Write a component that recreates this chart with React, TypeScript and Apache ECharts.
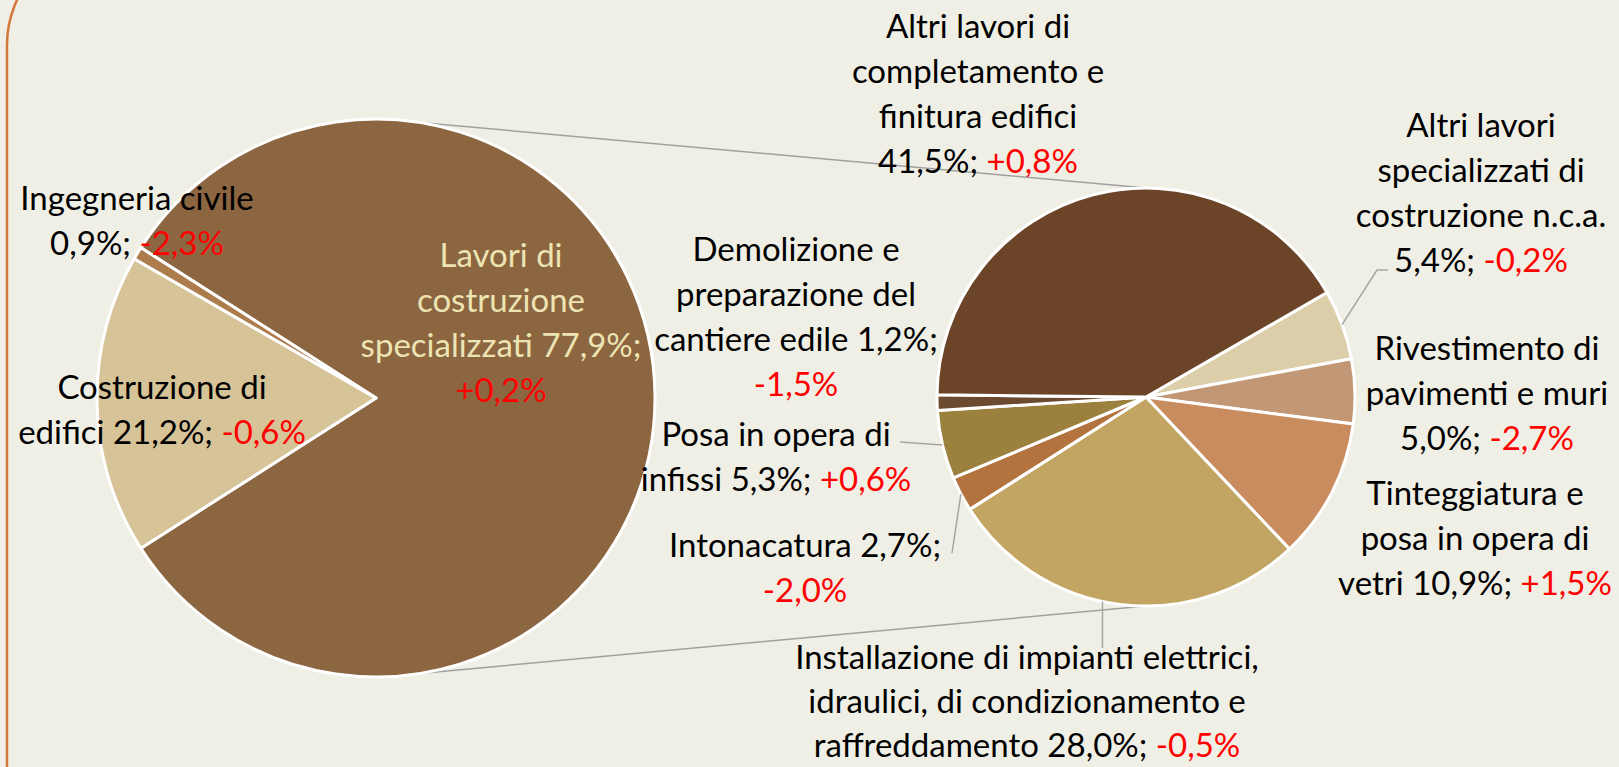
import React, { useEffect, useRef } from 'react';
import * as echarts from 'echarts';

// ---------- DATA ----------
const mainNames = ['Lavori di costruzione specializzati', 'Costruzione di edifici', 'Ingegneria civile'];
const mainShares = [77.9, 21.2, 0.9];
const mainChanges = [0.2, -0.6, -2.3];

const subNames = [
  'Altri lavori specializzati di costruzione n.c.a.',
  'Rivestimento di pavimenti e muri',
  'Tinteggiatura e posa in opera di vetri',
  'Installazione di impianti elettrici, idraulici, di condizionamento e raffreddamento',
  'Intonacatura',
  'Posa in opera di infissi',
  'Demolizione e preparazione del cantiere edile',
  'Altri lavori di completamento e finitura edifici',
];
const subShares = [5.4, 5.0, 10.9, 28.0, 2.7, 5.3, 1.2, 41.5];
const subChanges = [-0.2, -2.7, 1.5, -0.5, -2.0, 0.6, -1.5, 0.8];

// label wrapping (text lines; last entry is the prefix of the value line)
const mainWrap = [
  ['Lavori di', 'costruzione', 'specializzati'],
  ['Costruzione di', 'edifici'],
  ['Ingegneria civile', ''],
];
const mainChangeBreak = [true, false, false];
const subWrap = [
  ['Altri lavori', 'specializzati di', 'costruzione n.c.a.', ''],
  ['Rivestimento di', 'pavimenti e muri', ''],
  ['Tinteggiatura e', 'posa in opera di', 'vetri'],
  ['Installazione di impianti elettrici,', 'idraulici, di condizionamento e', 'raffreddamento'],
  ['Intonacatura'],
  ['Posa in opera di', 'infissi'],
  ['Demolizione e', 'preparazione del', 'cantiere edile'],
  ['Altri lavori di', 'completamento e', 'finitura edifici', ''],
];
const subChangeBreak = [false, false, false, false, true, false, true, false];

// ---------- STYLE / LAYOUT ----------
const mainColors = ['#8C6640', '#D6C397', '#AC7C4D'];
const subColors = ['#DDCEAA', '#C29775', '#C98C5F', '#C2A563', '#B3733F', '#9C803E', '#6B4A30', '#6C4427'];
const BG = '#F0EFE5';
const FONT = 'Lato, "Open Sans", sans-serif';
const FS = 33;
const LH = 45;

const MAIN = { cx: 376, cy: 398, r: 279 };
const SUB = { cx: 1146, cy: 397, r: 209, start: 30 };

const mainLabelPos = [
  [501, 321],
  [162, 408],
  [137, 219],
];
const subLabelPos = [
  [1481, 191],
  [1487, 392],
  [1475, 537],
  [1027, 700],
  [805, 566],
  [776, 455],
  [796, 315],
  [978, 92],
];
const subLabelLH = [LH, LH, LH, 44, LH, LH, LH, LH];
// leader lines: slice index, fraction along slice, further points
const leaders = [
  { i: 0, f: 0.5, pts: [[1377, 270], [1388, 270]] },
  { i: 5, f: 0.5, pts: [[900, 442]] },
  { i: 4, f: 0.5, pts: [[952, 553]] },
  { i: 3, f: 0.549, pts: [[null, 648]] },
];

const fmt = (v: number) => v.toFixed(1).replace('.', ',');
const fmtChg = (v: number) => (v >= 0 ? '+' : '-') + fmt(Math.abs(v)) + '%';

function buildLabel(wrap: string[], share: number, change: number, brk: boolean, cls: string) {
  const lines = wrap.slice(0, -1).map((l) => `{${cls}|${l}}`);
  const last = wrap[wrap.length - 1];
  const valueLine = `${last ? last + ' ' : ''}${fmt(share)}%;`;
  if (brk) {
    lines.push(`{${cls}|${valueLine}}`);
    lines.push(`{r|${fmtChg(change)}}`);
  } else {
    lines.push(`{${cls}|${valueLine} }{r|${fmtChg(change)}}`);
  }
  return lines.join('\n');
}

const makeRich = (lh: number) => ({
  t: { fill: '#000000', fontSize: FS, fontFamily: FONT, lineHeight: lh },
  w: { fill: '#EDE4B4', fontSize: FS, fontFamily: FONT, lineHeight: lh },
  r: { fill: '#FF0000', fontSize: FS, fontFamily: FONT, lineHeight: lh },
});

export default function App() {
  const ref = useRef<HTMLDivElement>(null);
  useEffect(() => {
    if (!ref.current) return;
    const chart = echarts.init(ref.current, null, { renderer: 'svg' });

    const lavoriValue = subShares.reduce((a, b) => a + b, 0);
    const mainValues = [lavoriValue, mainShares[1], mainShares[2]];
    const mainTotal = mainValues.reduce((a, b) => a + b, 0);
    const mainStart = (180 * lavoriValue) / mainTotal;
    const subTotal = subShares.reduce((a, b) => a + b, 0);

    const subAngle = (i: number, f: number) => {
      let cum = 0;
      for (let k = 0; k < i; k++) cum += subShares[k];
      return SUB.start - (360 * (cum + f * subShares[i])) / subTotal;
    };
    const onCircle = (c: { cx: number; cy: number; r: number }, deg: number) => {
      const a = (deg * Math.PI) / 180;
      return [c.cx + c.r * Math.cos(a), c.cy - c.r * Math.sin(a)];
    };

    const textEl = (x: number, y: number, text: string, lh: number) => ({
      type: 'text',
      z: 10,
      x,
      y,
      style: {
        text,
        rich: makeRich(lh),
        align: 'center',
        verticalAlign: 'middle',
        fontSize: FS,
        fontFamily: FONT,
        lineHeight: lh,
      },
    });

    const labelEls: any[] = [];
    mainNames.forEach((n, i) => {
      labelEls.push(
        textEl(
          mainLabelPos[i][0],
          mainLabelPos[i][1],
          buildLabel(mainWrap[i], mainShares[i], mainChanges[i], mainChangeBreak[i], i === 0 ? 'w' : 't'),
          LH
        )
      );
    });
    subNames.forEach((n, i) => {
      labelEls.push(
        textEl(
          subLabelPos[i][0],
          subLabelPos[i][1],
          buildLabel(subWrap[i], subShares[i], subChanges[i], subChangeBreak[i], 't'),
          subLabelLH[i]
        )
      );
    });

    const leaderEls = leaders.map((l) => {
      const p0 = onCircle(SUB, subAngle(l.i, l.f));
      const pts = [p0, ...l.pts.map((p) => [p[0] == null ? p0[0] : p[0], p[1]])];
      return {
        type: 'polyline',
        z: 9,
        shape: { points: pts },
        style: { stroke: '#A6A6A6', lineWidth: 1.5, fill: null },
      };
    });

    const topA = onCircle(MAIN, 81);
    const botA = onCircle(MAIN, -81);
    const connectors = [
      { type: 'line', z: 1, shape: { x1: topA[0], y1: topA[1], x2: SUB.cx, y2: SUB.cy - SUB.r }, style: { stroke: '#A0A0A0', lineWidth: 1.5 } },
      { type: 'line', z: 1, shape: { x1: botA[0], y1: botA[1], x2: SUB.cx, y2: SUB.cy + SUB.r }, style: { stroke: '#A0A0A0', lineWidth: 1.5 } },
    ];

    const border = {
      type: 'rect',
      z: 0,
      shape: { x: 7, y: -61, width: 3000, height: 3000, r: 106 },
      style: { fill: null, stroke: '#D4773F', lineWidth: 2.5 },
    };

    chart.setOption({
      animation: false,
      backgroundColor: BG,
      tooltip: { show: false },
      series: [
        {
          type: 'pie',
          center: [MAIN.cx, MAIN.cy],
          radius: [0, MAIN.r],
          startAngle: mainStart,
          clockwise: true,
          silent: true,
          label: { show: false },
          labelLine: { show: false },
          itemStyle: { borderColor: '#FFFFFF', borderWidth: 3 },
          emphasis: { disabled: true },
          data: mainNames.map((n, i) => ({ name: n, value: mainValues[i], itemStyle: { color: mainColors[i] } })),
        },
        {
          type: 'pie',
          center: [SUB.cx, SUB.cy],
          radius: [0, SUB.r],
          startAngle: SUB.start,
          clockwise: true,
          silent: true,
          label: { show: false },
          labelLine: { show: false },
          itemStyle: { borderColor: '#FFFFFF', borderWidth: 3 },
          emphasis: { disabled: true },
          data: subNames.map((n, i) => ({ name: n, value: subShares[i], itemStyle: { color: subColors[i] } })),
        },
      ],
      graphic: [border, ...connectors, ...leaderEls, ...labelEls],
    });

    return () => chart.dispose();
  }, []);

  return (
    <div
      ref={ref}
      style={{ position: 'absolute', left: 0, top: 0, width: 1619, height: 767 }}
    />
  );
}
